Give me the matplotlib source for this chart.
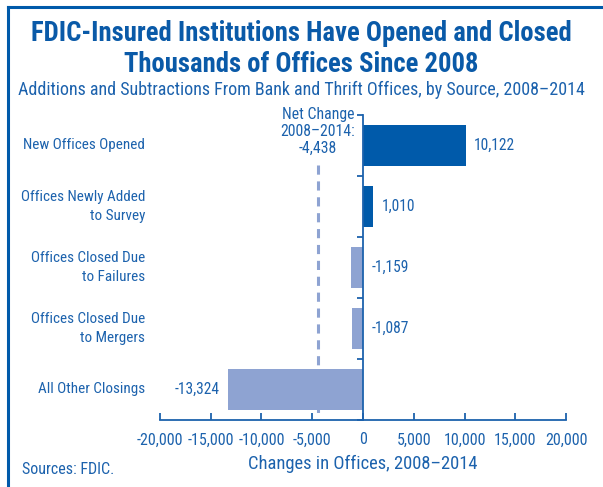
import numpy as np
import matplotlib.pyplot as plt
from matplotlib.lines import Line2D
from matplotlib import transforms

plt.rcParams['font.family'] = ['Roboto Condensed', 'Archivo Narrow', 'DejaVu Sans']
plt.rcParams['font.stretch'] = 'condensed'

# data
categories = ['New Offices Opened', 'Offices Newly Added\nto Survey',
              'Offices Closed Due\nto Failures', 'Offices Closed Due\nto Mergers',
              'All Other Closings']
values = [10122, 1010, -1159, -1087, -13324]
net_change = -4438
xticks = [-20000, -15000, -10000, -5000, 0, 5000, 10000, 15000, 20000]

dark = '#005aaa'
light = '#8ea3d2'
txt = '#1c62ad'

fig = plt.figure(figsize=(6.03, 4.87), dpi=100)
ax = fig.add_axes([0.265, 0.1376, 0.674, 0.6264])

y = np.arange(len(categories))
colors = [dark if v > 0 else light for v in values]
ax.barh(y, values, height=0.67, color=colors, zorder=2)
ax.set_ylim(len(categories) - 0.5, -0.5)
ax.set_xlim(-20000, 20000)

# value labels
for yi, v in zip(y, values):
    s = f'{v:,}'
    if v < -5000:
        ax.text(v - 800, yi, s, ha='right', va='center', color=txt, fontsize=11.2)
    else:
        ax.text(max(v, 0) + 800, yi, s, ha='left', va='center', color=txt, fontsize=11.2)

# category labels on the left
lab_tr = transforms.blended_transform_factory(fig.transFigure, ax.transData)
for yi, c in zip(y, categories):
    ax.text(145 / 603, yi, c, transform=lab_tr, ha='right', va='center',
            color=txt, fontsize=10.9, linespacing=1.5)

# net change line + note
ax.vlines(net_change, 0.32, len(categories) - 0.5, color=light, lw=2.2,
          linestyles=(0, (3, 2.2)), zorder=1)
tr = transforms.blended_transform_factory(ax.transData, ax.transAxes)
ax.text(net_change, 0.865, 'Net Change\n2008–2014:\n-4,438', transform=tr,
        ha='center', va='bottom', color=txt, fontsize=11.3, linespacing=1.17)

# axes styling
for s in ['top', 'right']:
    ax.spines[s].set_visible(False)
ax.spines['left'].set_position(('data', 0))
ax.spines['left'].set_color(txt)
ax.spines['left'].set_linewidth(1.3)
ax.spines['left'].set_zorder(3)
ax.spines['bottom'].set_color(txt)
ax.spines['bottom'].set_linewidth(1.3)
ax.set_yticks(np.arange(-0.5, len(categories), 1.0))
ax.set_yticklabels([])
ax.tick_params(axis='y', direction='out', length=4, color=txt, width=1.3)
ax.set_xticks(xticks)
ax.set_xticklabels([f'{t:,}' for t in xticks])
ax.tick_params(axis='x', direction='in', length=5, color=txt, width=1.3,
               labelcolor=txt, labelsize=11.5, pad=9)
ax.set_xlabel('Changes in Offices, 2008–2014', color=txt, fontsize=13.3, labelpad=5)

# titles
fig.text(0.5, 0.9, 'FDIC-Insured Institutions Have Opened and Closed\nThousands of Offices Since 2008',
         ha='center', va='center', color='#0a5aa8', fontsize=19.2, fontweight='bold',
         linespacing=1.2)
fig.text(0.5, 0.816, 'Additions and Subtractions From Bank and Thrift Offices, by Source, 2008–2014',
         ha='center', va='center', color=txt, fontsize=13.0)
fig.text(22 / 603, 1 - 470 / 487, 'Sources: FDIC.', ha='left', va='center',
         color=txt, fontsize=11.5)

# frame lines
fig.add_artist(Line2D([8 / 603, 8 / 603], [0, 1 - 7 / 487], color=dark, lw=2.2))
fig.add_artist(Line2D([8 / 603, 1], [1 - 7 / 487, 1 - 7 / 487], color=dark, lw=2.2))

fig.savefig('out.png', dpi=100)
